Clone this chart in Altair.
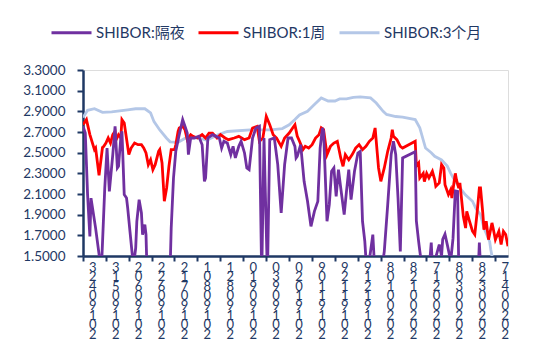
import altair as alt
import pandas as pd

NAVY = "#1F3864"
FONT = "Lato, 'Noto Sans CJK SC', sans-serif"

series_names = ["SHIBOR:隔夜", "SHIBOR:1周", "SHIBOR:3个月"]
series_colors = ["#7030A0", "#FF0000", "#B4C7E7"]
series_widths = [2.8, 2.8, 5]

# SHIBOR 3个月
m3_dates = ["2019-04-19", "2019-04-23", "2019-04-29", "2019-05-06", "2019-05-14", "2019-05-21",
            "2019-05-28", "2019-06-04", "2019-06-12", "2019-06-17", "2019-06-20", "2019-06-25",
            "2019-07-01", "2019-07-04", "2019-07-11", "2019-07-18", "2019-07-29", "2019-08-05",
            "2019-08-09", "2019-08-15", "2019-08-23", "2019-09-12", "2019-09-30", "2019-10-10",
            "2019-10-16", "2019-10-21", "2019-10-25", "2019-11-01", "2019-11-07", "2019-11-13",
            "2019-11-19", "2019-11-25", "2019-11-29", "2019-12-05", "2019-12-11", "2019-12-17",
            "2019-12-26", "2019-12-31", "2020-01-06", "2020-01-09", "2020-01-17", "2020-01-23",
            "2020-02-03", "2020-02-07", "2020-02-12", "2020-02-17", "2020-02-20", "2020-02-26",
            "2020-03-02", "2020-03-05", "2020-03-09", "2020-03-13", "2020-03-18", "2020-03-24",
            "2020-03-27", "2020-03-31", "2020-04-03", "2020-04-08", "2020-04-09", "2020-04-10",
            "2020-04-14", "2020-04-20", "2020-04-24"]
m3_values = [2.84, 2.91, 2.925, 2.89, 2.895, 2.905,
             2.915, 2.925, 2.925, 2.885, 2.80, 2.72,
             2.64, 2.605, 2.60, 2.645, 2.642, 2.62,
             2.642, 2.674, 2.705, 2.72, 2.72, 2.733,
             2.77, 2.82, 2.865, 2.90, 2.965, 3.03,
             3.00, 3.00, 3.02, 3.02, 3.035, 3.04,
             3.03, 2.98, 2.90, 2.87, 2.85, 2.845,
             2.82, 2.74, 2.545, 2.50, 2.465, 2.43,
             2.37, 2.30, 2.22, 2.16, 2.09, 2.03,
             1.96, 1.90, 1.77, 1.64, 1.56, 1.50,
             1.45, 1.42, 1.40]

# SHIBOR 1周
w1_dates = ["2019-04-19", "2019-04-22", "2019-04-25", "2019-04-29", "2019-04-30", "2019-05-03",
            "2019-05-06", "2019-05-07", "2019-05-09", "2019-05-11", "2019-05-13", "2019-05-15",
            "2019-05-17", "2019-05-18", "2019-05-20", "2019-05-22", "2019-05-23", "2019-05-25",
            "2019-05-28", "2019-05-29", "2019-05-31", "2019-06-03", "2019-06-06", "2019-06-09",
            "2019-06-11", "2019-06-13", "2019-06-15", "2019-06-17", "2019-06-19", "2019-06-21",
            "2019-06-24", "2019-06-25", "2019-06-27", "2019-06-29", "2019-07-01", "2019-07-03",
            "2019-07-05", "2019-07-08", "2019-07-09", "2019-07-11", "2019-07-12", "2019-07-15",
            "2019-07-17", "2019-07-19", "2019-07-22", "2019-07-24", "2019-07-28", "2019-08-01",
            "2019-08-04", "2019-08-07", "2019-08-10", "2019-08-14", "2019-08-17", "2019-08-21",
            "2019-08-24", "2019-08-29", "2019-09-02", "2019-09-07", "2019-09-11", "2019-09-14",
            "2019-09-18", "2019-09-20", "2019-09-23", "2019-09-26", "2019-09-29", "2019-10-02",
            "2019-10-05", "2019-10-09", "2019-10-12", "2019-10-16", "2019-10-19", "2019-10-21",
            "2019-10-23", "2019-10-25", "2019-10-28", "2019-10-30", "2019-11-02", "2019-11-05",
            "2019-11-08", "2019-11-11", "2019-11-13", "2019-11-15", "2019-11-18", "2019-11-21",
            "2019-11-24", "2019-11-27", "2019-11-30", "2019-12-02", "2019-12-04", "2019-12-07",
            "2019-12-10", "2019-12-13", "2019-12-16", "2019-12-19", "2019-12-22", "2019-12-25",
            "2019-12-28", "2019-12-30", "2020-01-01", "2020-01-02", "2020-01-04", "2020-01-07",
            "2020-01-10", "2020-01-13", "2020-01-14", "2020-01-15", "2020-01-18", "2020-01-21",
            "2020-01-23", "2020-02-03", "2020-02-04", "2020-02-06", "2020-02-07", "2020-02-10",
            "2020-02-11", "2020-02-13", "2020-02-15", "2020-02-18", "2020-02-20", "2020-02-21",
            "2020-02-24", "2020-02-26", "2020-02-28", "2020-02-29", "2020-03-03", "2020-03-05",
            "2020-03-06", "2020-03-08", "2020-03-09", "2020-03-10", "2020-03-12", "2020-03-13",
            "2020-03-16", "2020-03-18", "2020-03-19", "2020-03-21", "2020-03-24", "2020-03-26",
            "2020-03-28", "2020-03-30", "2020-03-31", "2020-04-02", "2020-04-03", "2020-04-05",
            "2020-04-07", "2020-04-10", "2020-04-11", "2020-04-13", "2020-04-16", "2020-04-18",
            "2020-04-20", "2020-04-22", "2020-04-24"]
w1_values = [2.77, 2.82, 2.675, 2.53, 2.545, 2.28,
             2.55, 2.56, 2.593, 2.642, 2.593, 2.674,
             2.707, 2.626, 2.674, 2.642, 2.82, 2.787,
             2.56, 2.481, 2.545, 2.593, 2.577, 2.577,
             2.545, 2.497, 2.384, 2.432, 2.336, 2.384,
             2.513, 2.53, 2.40, 2.03, 2.158, 2.368,
             2.53, 2.53, 2.577, 2.707, 2.739, 2.755,
             2.723, 2.626, 2.674, 2.658, 2.642, 2.674,
             2.642, 2.69, 2.69, 2.642, 2.674, 2.642,
             2.626, 2.642, 2.658, 2.626, 2.642, 2.739,
             2.755, 2.61, 2.642, 2.852, 2.771, 2.674,
             2.642, 2.561, 2.642, 2.69, 2.739, 2.77,
             2.66, 2.61, 2.53, 2.561, 2.545, 2.577,
             2.642, 2.674, 2.74, 2.723, 2.481, 2.561,
             2.593, 2.61, 2.449, 2.368, 2.481, 2.432,
             2.481, 2.545, 2.577, 2.529, 2.561, 2.61,
             2.642, 2.739, 2.481, 2.352, 2.223, 2.352,
             2.513, 2.642, 2.723, 2.658, 2.626, 2.561,
             2.545, 2.61, 2.37, 2.40, 2.255, 2.30,
             2.22, 2.30, 2.255, 2.32, 2.24, 2.174,
             2.207, 2.384, 2.352, 2.19, 2.094, 2.142,
             2.06, 2.223, 2.30, 2.239, 2.158, 2.207,
             1.884, 1.77, 1.932, 1.852, 1.74, 1.707,
             1.916, 2.158, 2.158, 1.916, 1.755, 1.836,
             1.658, 1.82, 1.771, 1.658, 1.739, 1.61,
             1.739, 1.707, 1.594]

# SHIBOR 隔夜
on_dates = ["2019-04-19", "2019-04-21", "2019-04-23", "2019-04-25", "2019-04-26", "2019-04-30",
            "2019-05-05", "2019-05-08", "2019-05-10", "2019-05-12", "2019-05-15", "2019-05-17",
            "2019-05-19", "2019-05-20", "2019-05-22", "2019-05-23", "2019-05-25", "2019-05-27",
            "2019-05-28", "2019-05-30", "2019-06-02", "2019-06-04", "2019-06-05", "2019-06-07",
            "2019-06-09", "2019-06-10", "2019-06-12", "2019-06-13", "2019-06-14", "2019-06-20",
            "2019-06-28", "2019-07-04", "2019-07-05", "2019-07-07", "2019-07-09", "2019-07-12",
            "2019-07-15", "2019-07-17", "2019-07-19", "2019-07-20", "2019-07-22", "2019-07-25",
            "2019-07-29", "2019-08-01", "2019-08-03", "2019-08-04", "2019-08-06", "2019-08-10",
            "2019-08-16", "2019-08-18", "2019-08-20", "2019-08-23", "2019-08-26", "2019-08-28",
            "2019-08-30", "2019-09-02", "2019-09-04", "2019-09-07", "2019-09-09", "2019-09-11",
            "2019-09-14", "2019-09-17", "2019-09-20", "2019-09-22", "2019-09-24", "2019-09-27",
            "2019-09-29", "2019-10-03", "2019-10-06", "2019-10-09", "2019-10-12", "2019-10-15",
            "2019-10-18", "2019-10-21", "2019-10-22", "2019-10-23", "2019-10-26", "2019-10-29",
            "2019-11-01", "2019-11-04", "2019-11-07", "2019-11-10", "2019-11-12", "2019-11-14",
            "2019-11-15", "2019-11-18", "2019-11-20", "2019-11-22", "2019-11-24", "2019-11-26",
            "2019-11-28", "2019-11-30", "2019-12-03", "2019-12-05", "2019-12-07", "2019-12-09",
            "2019-12-12", "2019-12-15", "2019-12-17", "2019-12-19", "2019-12-21", "2019-12-23",
            "2019-12-28", "2019-12-30", "2020-01-04", "2020-01-07", "2020-01-10", "2020-01-13",
            "2020-01-15", "2020-01-17", "2020-01-19", "2020-01-21", "2020-01-23", "2020-02-03",
            "2020-02-04", "2020-02-06", "2020-02-07", "2020-02-10", "2020-02-15", "2020-02-17",
            "2020-02-18", "2020-02-20", "2020-02-24", "2020-02-26", "2020-02-27", "2020-02-29",
            "2020-03-02", "2020-03-05", "2020-03-07", "2020-03-09", "2020-03-11", "2020-03-12",
            "2020-03-20", "2020-03-29", "2020-03-30", "2020-03-31", "2020-04-10", "2020-04-24"]
on_values = [2.755, 2.69, 2.094, 1.69, 2.06, 1.77,
             1.35, 2.158, 2.545, 2.126, 2.481, 2.755,
             2.352, 2.368, 2.642, 2.707, 2.094, 2.061,
             1.965, 1.739, 1.40, 1.577, 1.836, 2.045,
             1.916, 1.707, 1.803, 1.707, 1.30, 1.05,
             1.10, 1.35, 1.771, 2.255, 2.513, 2.674,
             2.82, 2.755, 2.69, 2.481, 2.642, 2.642,
             2.658, 2.577, 2.223, 2.255, 2.642, 2.674,
             2.642, 2.545, 2.61, 2.593, 2.481, 2.561,
             2.449, 2.561, 2.61, 2.497, 2.352, 2.336,
             2.642, 2.739, 2.755, 1.30, 2.642, 1.30,
             2.626, 2.642, 2.384, 1.916, 2.384, 2.642,
             2.642, 2.561, 2.449, 2.465, 2.577, 2.223,
             2.029, 1.787, 1.932, 2.029, 2.545, 2.739,
             2.707, 1.836, 1.997, 2.32, 2.352, 2.078,
             2.336, 2.158, 1.90, 2.126, 2.336, 2.045,
             2.32, 2.497, 2.513, 1.836, 1.642, 1.30,
             1.707, 1.30, 1.30, 1.545, 1.997, 2.481,
             2.61, 2.481, 2.061, 1.545, 2.449, 2.51,
             1.84, 1.64, 1.55, 1.30, 1.35, 1.63,
             1.40, 1.45, 1.61, 1.50, 1.66, 1.71,
             1.61, 1.45, 1.67, 2.13, 2.126, 1.40,
             1.20, 1.35, 1.63, 1.40, 1.00, 0.95]

tick_dates = ["2019-04-23", "2019-05-13", "2019-06-02", "2019-06-22", "2019-07-12", "2019-08-01",
              "2019-08-21", "2019-09-10", "2019-09-30", "2019-10-20", "2019-11-09", "2019-11-29",
              "2019-12-19", "2020-01-08", "2020-01-28", "2020-02-17", "2020-03-08", "2020-03-28",
              "2020-04-17"]
y_ticks = [1.5, 1.7, 1.9, 2.1, 2.3, 2.5, 2.7, 2.9, 3.1, 3.3]
x_start, x_end = "2019-04-19", "2020-04-24"


def ms(s):
    return int(pd.Timestamp(s, tz="UTC").value // 1_000_000)


frames = []
for name, d, v in [(series_names[0], on_dates, on_values),
                   (series_names[1], w1_dates, w1_values),
                   (series_names[2], m3_dates, m3_values)]:
    frames.append(pd.DataFrame({"series": name, "date": d, "value": v}))
df = pd.concat(frames, ignore_index=True)

legend = alt.Legend(
    title=None, orient="none", legendX=-33, legendY=-59, direction="horizontal",
    symbolType="stroke", symbolSize=1600, labelFont=FONT, labelFontSize=15,
    labelColor=NAVY, labelOffset=3, columnPadding=7, padding=0,
)

x = alt.X(
    "date:T",
    scale=alt.Scale(type="utc", domain=[ms(x_start), ms(x_end)]),
    axis=alt.Axis(
        values=[ms(t) for t in tick_dates],
        labelExpr="reverse(split(utcFormat(datum.value, '%Y%m%d'), ''))",
        labelAngle=0, labelAlign="center", labelBaseline="top",
        labelFont=FONT, labelFontSize=13, labelColor=NAVY, labelLineHeight=9.6,
        labelPadding=0, labelOverlap=False, labelFlush=False, labelBound=False,
        tickSize=5, tickWidth=2, tickColor=NAVY, tickOffset=-4.8, labelOffset=9.5,
        domainColor=NAVY, domainWidth=2.5, grid=False, title=None,
    ),
)
y = alt.Y(
    "value:Q",
    scale=alt.Scale(domain=[1.5, 3.3], nice=False, zero=False),
    axis=alt.Axis(
        values=y_ticks, format=".4f", labelFont=FONT, labelFontSize=13.5, labelColor=NAVY,
        labelPadding=12, tickSize=6, tickWidth=2, tickColor=NAVY,
        domainColor=NAVY, domainWidth=2.5, grid=False, title=None,
    ),
)
color = alt.Color("series:N", scale=alt.Scale(domain=series_names, range=series_colors), legend=legend)
width = alt.StrokeWidth("series:N", scale=alt.Scale(domain=series_names, range=series_widths), legend=legend)

base = alt.Chart(df).mark_line(clip=True).encode(x=x, y=y, color=color, strokeWidth=width)

chart = alt.layer(
    base.transform_filter(alt.datum.series == series_names[2]),
    base.transform_filter(alt.datum.series == series_names[1]),
    base.transform_filter(alt.datum.series == series_names[0]),
).properties(
    width=425, height=186,
    padding={"left": 75, "top": 62, "right": 16, "bottom": 90},
    autosize=alt.AutoSizeParams(type="none"),
).configure_view(stroke=None).configure(background="white")

chart.save("out.html", embed_options={"renderer": "svg", "actions": False})
